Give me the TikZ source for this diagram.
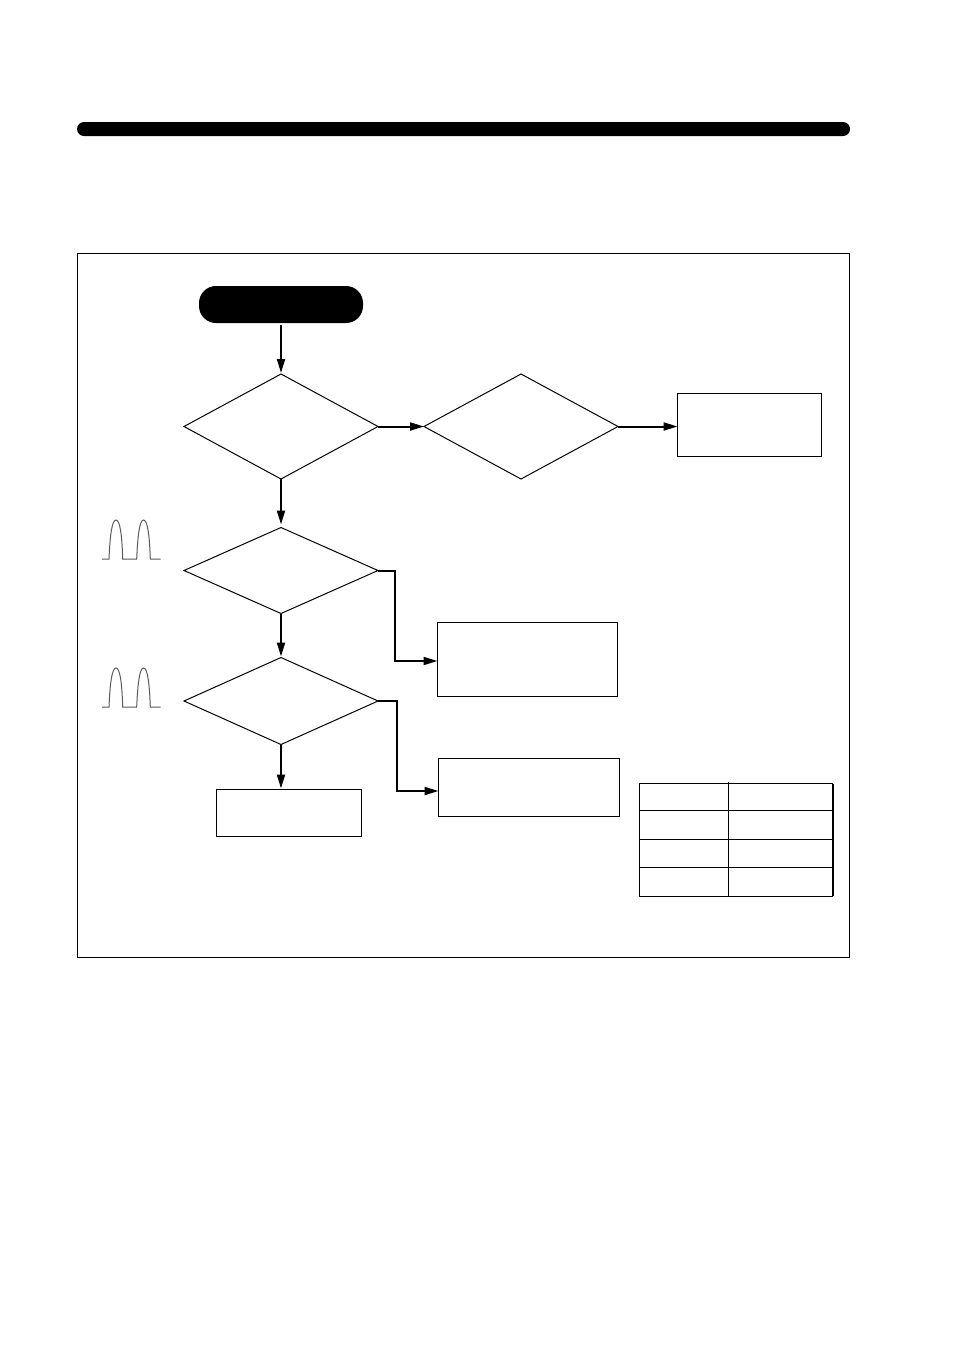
\documentclass[tikz,border=0pt]{standalone}
\usetikzlibrary{shapes.geometric,arrows.meta}
\newlength{\du}
\setlength{\du}{0.5pt}
\tikzset{
  framebox/.style={draw,rectangle,inner sep=0pt,outer sep=0pt,line width=1\du},
  decision/.style={draw,diamond,inner sep=0pt,outer sep=0pt,line width=1\du,minimum width=194\du},
  blackbar/.style={fill=black,rectangle,inner sep=0pt,outer sep=0pt},
  flowline/.style={line width=2\du,-{Triangle[length=7pt,width=4pt]}},
  pulseline/.style={line width=1\du,draw=black!65},
  tableline/.style={line width=1.3\du}
}

\begin{document}
\begin{tikzpicture}
\pgftransformxscale{1.000000}
\pgftransformyscale{-1.000000}
\useasboundingbox (0\du,0\du) rectangle (954\du,1351\du);
% bar and outer frame
\node[blackbar,rounded corners=7\du,minimum width=773\du,minimum height=14\du] (topbar) at (463.5\du,129\du){};
\node[framebox,minimum width=772\du,minimum height=704\du] (frame) at (463.5\du,605.5\du){};
% flow nodes
\node[blackbar,rounded corners=17\du,minimum width=164\du,minimum height=37\du] (start) at (281\du,304.5\du){};
\node[decision,minimum height=105\du] (checka) at (281\du,426.5\du){};
\node[decision,minimum height=105\du] (checkb) at (521\du,426.5\du){};
\node[decision,minimum height=86\du] (checkc) at (281\du,570.5\du){};
\node[decision,minimum height=87\du] (checkd) at (281\du,701\du){};
\node[framebox,minimum width=144\du,minimum height=63\du] (boxa) at (749.5\du,425\du){};
\node[framebox,minimum width=180\du,minimum height=74\du] (boxb) at (527.5\du,659.5\du){};
\node[framebox,minimum width=180.5\du,minimum height=58\du] (boxc) at (528.75\du,787.5\du){};
\node[framebox,minimum width=144.5\du,minimum height=47\du] (boxd) at (288.75\du,813\du){};
\coordinate (bendc) at (395\du,661\du);
\coordinate (bendd) at (397\du,791\du);
% connectors
\draw[flowline,shorten <=2\du,shorten >=1\du] (start.south) -- (checka.north);
\draw[flowline,shorten >=3\du] (checka.south) -- (checkc.north);
\draw[flowline,shorten >=1\du] (checkc.south) -- (checkd.north);
\draw[flowline,shorten >=1\du] (checkd.south) -- (checkd.south |- boxd.north);
\draw[flowline] (checka.east) -- (checkb.west);
\draw[flowline] (checkb.east) -- (checkb.east -| boxa.west);
\draw[flowline] (checkc.east) -| (bendc) -- (bendc -| boxb.west);
\draw[flowline] (checkd.east) -| (bendd) -- (bendd -| boxc.west);
% pulse marks
\draw[pulseline] (102\du,559\du) -- (109\du,559\du) .. controls (110\du,535\du) and (112\du,520\du) .. (116\du,520\du) .. controls (120\du,520\du) and (122\du,535\du) .. (122.7\du,559\du) -- (136.7\du,559\du) .. controls (137.7\du,535\du) and (139.7\du,520\du) .. (143.5\du,520\du) .. controls (147.5\du,520\du) and (149.5\du,535\du) .. (150.3\du,559\du) -- (160.7\du,559\du);
\draw[pulseline] (102\du,707\du) -- (109\du,707\du) .. controls (110\du,683\du) and (112\du,668\du) .. (116\du,668\du) .. controls (120\du,668\du) and (122\du,683\du) .. (122.7\du,707\du) -- (136.7\du,707\du) .. controls (137.7\du,683\du) and (139.7\du,668\du) .. (143.5\du,668\du) .. controls (147.5\du,668\du) and (149.5\du,683\du) .. (150.3\du,707\du) -- (160.7\du,707\du);
% table
\node[draw,rectangle,tableline,inner sep=0pt,outer sep=0pt,minimum width=193.4\du,minimum height=112.8\du] (legend) at (736\du,840\du){};
\coordinate (coltop) at (728.3\du,782\du);
\coordinate (rowa) at (728.3\du,810.3\du);
\coordinate (rowb) at (728.3\du,839.3\du);
\coordinate (rowc) at (728.3\du,867.3\du);
\draw[tableline] (coltop) -- (coltop |- legend.south);
\draw[tableline] (rowa -| legend.west) -- (rowa -| legend.east);
\draw[tableline] (rowb -| legend.west) -- (rowb -| legend.east);
\draw[tableline] (rowc -| legend.west) -- (rowc -| legend.east);
\draw[line width=2\du] (legend.north east) -- (legend.south east);
\end{tikzpicture}
\end{document}
